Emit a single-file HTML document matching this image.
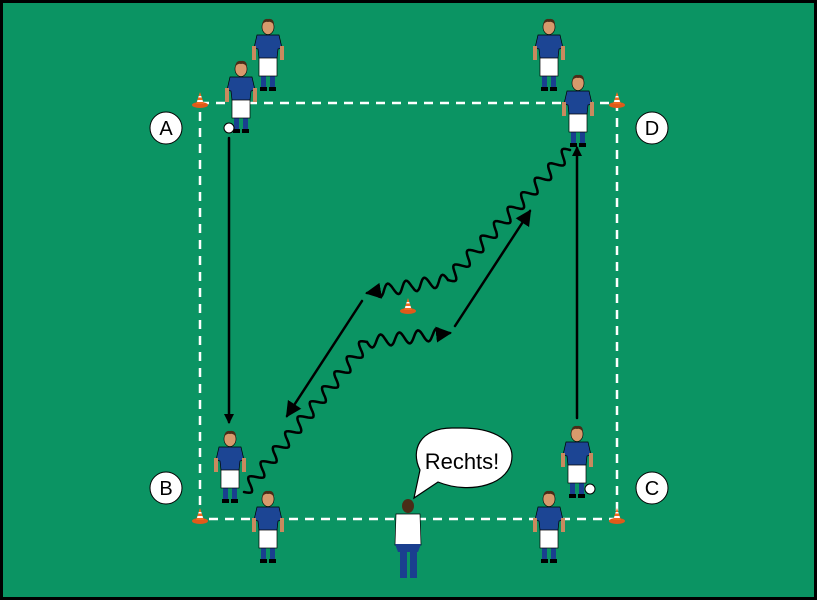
<!DOCTYPE html>
<html><head><meta charset="utf-8"><style>
html,body{margin:0;padding:0;background:#000}
svg{display:block}
</style></head><body>
<svg id="s" width="817" height="600" viewBox="0 0 817 600" xmlns="http://www.w3.org/2000/svg">
<defs>
<marker id="ah" markerWidth="10" markerHeight="10" refX="8" refY="5" orient="auto" markerUnits="userSpaceOnUse" viewBox="0 0 10 10">
<path d="M0,0 L10,5 L0,10 z" fill="#000"/></marker>
<marker id="ah2" markerWidth="16" markerHeight="16" refX="14" refY="8" orient="auto" markerUnits="userSpaceOnUse" viewBox="0 0 16 16">
<path d="M0,0 L16,8 L0,16 z" fill="#000"/></marker>
<g id="pl">
<rect x="-7" y="58" width="5" height="12" fill="#1a3f8f"/><rect x="2" y="58" width="5" height="12" fill="#1a3f8f"/>
<rect x="-8" y="69" width="7" height="4" fill="#000"/><rect x="1" y="69" width="7" height="4" fill="#000"/>
<rect x="-9" y="38" width="18" height="20" fill="#fff" stroke="#000" stroke-width="0.7"/>
<path d="M-11,17 L11,17 L14,30 L10,31 L9,40 L-9,40 L-10,31 L-14,30 z" fill="#1c4594" stroke="#000" stroke-width="0.7"/>
<rect x="-16" y="28" width="4" height="14" fill="#c98a5e"/><rect x="12" y="28" width="4" height="14" fill="#c98a5e"/>
<ellipse cx="0" cy="9" rx="6" ry="7.5" fill="#d79a6c" stroke="#000" stroke-width="0.6"/>
<path d="M-6,7 Q-5,0 0,1 Q6,0 6,7 Q3,3 0,4 Q-3,3 -6,7z" fill="#4a2c17"/>
</g>
<g id="cone">
<ellipse cx="0" cy="5" rx="8" ry="3" fill="#e05a1a"/>
<path d="M-4,4 L0,-8 L4,4z" fill="#f06a20"/>
<path d="M-2.5,0 L2.5,0 L3,2 L-3,2z M-1.3,-4 L1.3,-4 L1.7,-2.5 L-1.7,-2.5z" fill="#fff"/>
</g>
</defs>
<rect x="3" y="3" width="811" height="594" fill="#0b9463"/>
<rect x="200" y="103" width="417" height="416" fill="none" stroke="#fff" stroke-width="2.5" stroke-dasharray="9,7"/>
<use href="#cone" x="200" y="100"/><use href="#cone" x="617" y="100"/>
<use href="#cone" x="200" y="516"/><use href="#cone" x="617" y="516"/>
<use href="#cone" x="408" y="306"/>
<g font-family="Liberation Sans, sans-serif" font-size="20" text-anchor="middle">
<circle cx="166" cy="128" r="16" fill="#fff" stroke="#000"/><text x="166" y="135">A</text>
<circle cx="166" cy="488" r="16" fill="#fff" stroke="#000"/><text x="166" y="495">B</text>
<circle cx="652" cy="128" r="16" fill="#fff" stroke="#000"/><text x="652" y="135">D</text>
<circle cx="652" cy="488" r="16" fill="#fff" stroke="#000"/><text x="652" y="495">C</text>
</g>
<g stroke="#000" stroke-width="2.5" fill="none" stroke-linecap="round">
<line x1="229" y1="138" x2="229" y2="422" marker-end="url(#ah)"/>
<line x1="577" y1="418" x2="577" y2="148" marker-end="url(#ah)"/>
<line x1="455" y1="326" x2="530" y2="211" marker-end="url(#ah2)"/>
<line x1="362" y1="301" x2="287" y2="416" marker-end="url(#ah2)"/>
<path id="w1"/><path id="w3" marker-end="url(#ah2)"/><path id="w4"/><path id="w5" marker-end="url(#ah2)"/>
</g>
<use href="#pl" x="268" y="18"/>
<use href="#pl" x="241" y="60"/>
<circle cx="229" cy="128" r="5" fill="#fff" stroke="#000"/>
<use href="#pl" x="549" y="18"/>
<use href="#pl" x="578" y="74"/>
<use href="#pl" x="230" y="430"/>
<use href="#pl" x="268" y="490"/>
<use href="#pl" x="549" y="490"/>
<use href="#pl" x="577" y="425"/>
<circle cx="590" cy="489" r="5" fill="#fff" stroke="#000"/>
<g>
<rect x="400" y="547" width="7" height="31" fill="#1a3f8f"/><rect x="410" y="547" width="7" height="31" fill="#1a3f8f"/>
<path d="M396,514 L420,514 L421,545 L395,545z" fill="#fff" stroke="#000" stroke-width="0.7"/>
<path d="M395,544 L421,544 L418,552 L398,552z" fill="#1a3f8f"/>
<ellipse cx="408" cy="506" rx="6" ry="7" fill="#4a2c17"/>
</g>
<path d="M452,428 C420,428 410,450 420,470 L414,498 L438,482 C470,495 512,485 512,456 C512,438 490,428 462,428z" fill="#fff" stroke="#000" stroke-width="1.2"/>
<text x="462" y="469" font-family="Liberation Sans, sans-serif" font-size="22" text-anchor="middle">Rechts!</text>
</svg>
<script>
function wv(x1,y1,x2,y2,amp,wl,tail){var dx=x2-x1,dy=y2-y1,L=Math.hypot(dx,dy),ux=dx/L,uy=dy/L,nx=-uy,ny=ux;
var WL=tail?L-8:L;var per=Math.max(1,Math.round(WL/wl));var w=WL/per;var n=per*16,d="M"+x1+","+y1;
for(var i=1;i<=n;i++){var t=i/n*WL,a=Math.sin(t/w*2*Math.PI)*amp;d+=" L"+(x1+ux*t+nx*a).toFixed(1)+","+(y1+uy*t+ny*a).toFixed(1);}
if(tail)d+=" L"+x2+","+y2;return d;}
document.getElementById("w1").setAttribute("d",wv(570,150,448,280,6,19,false));
document.getElementById("w3").setAttribute("d",wv(448,280,367,293,6,19,true));
document.getElementById("w4").setAttribute("d",wv(244,492,367,342,6,19,false));
document.getElementById("w5").setAttribute("d",wv(367,342,450,333,6,19,true));
</script>
</body></html>
